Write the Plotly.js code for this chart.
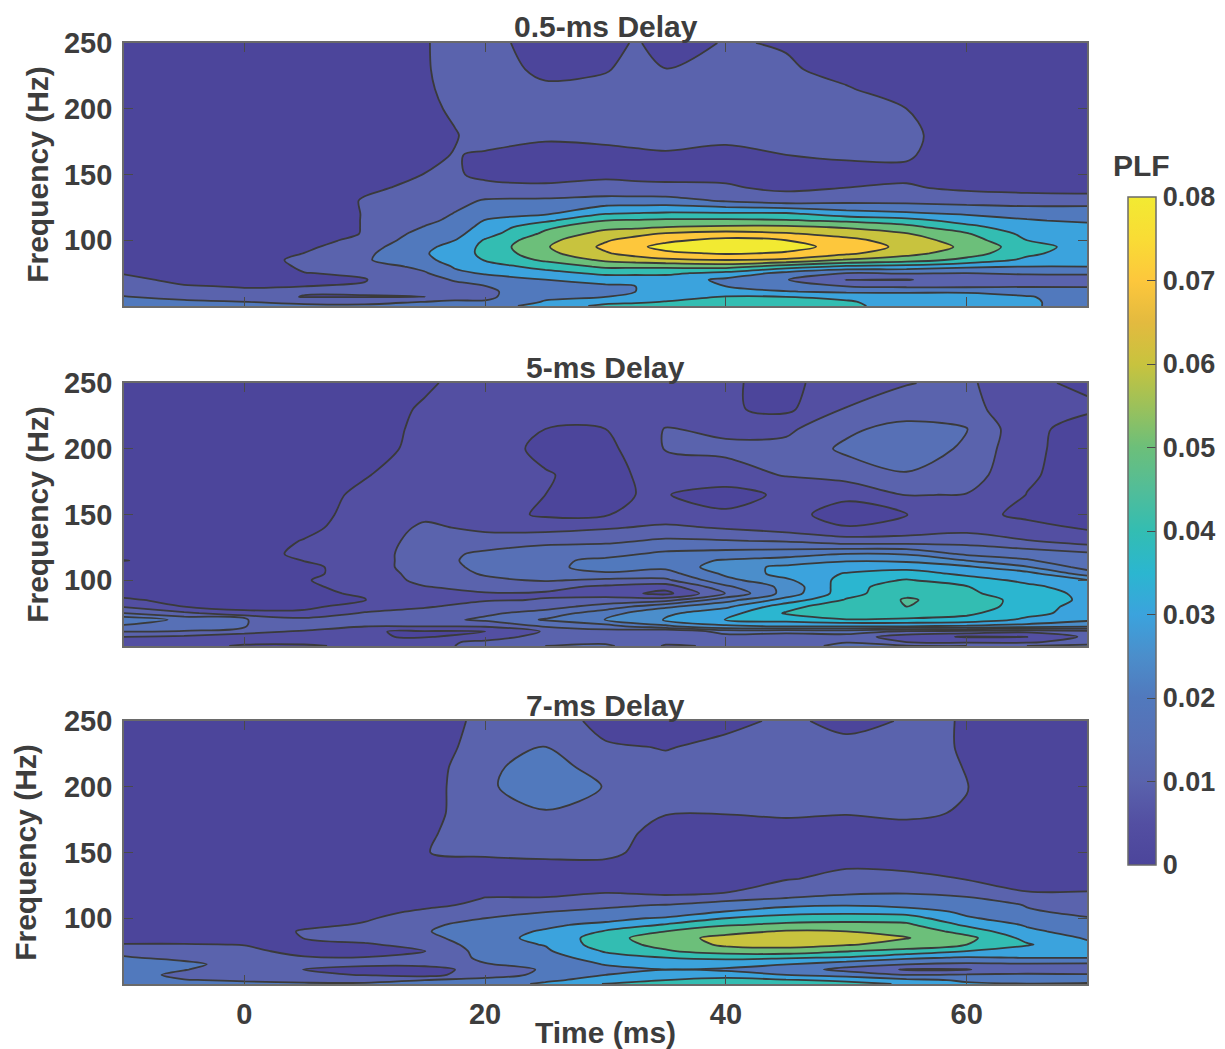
<!DOCTYPE html>
<html>
<head>
<meta charset="utf-8">
<script src="https://cdn.plot.ly/plotly-3.0.1.min.js"></script>
<style>html,body{margin:0;padding:0;background:#fff}#chart{width:1225px;height:1049px}</style>
</head>
<body>
<div id="chart"></div>
<script>
// Time axis (ms): one entry per column below
const timeMs = [-10,-5,0,5,10,15,20,25,30,35,40,45,50,55,60,65,70];
// The 0.5-ms panel has two extra readings, at saddles between contours
const timeMs05 = [-10,-5,0,5,10,15,17.5,20,25,30,32.5,35,40,45,50,55,60,65,70];
// Frequency axis (Hz): one entry per value in each column
const freqHz = [50,53,57,61,65,70,75,80,85,90,95,100,105,110,115,120,130,140,150,165,180,200,215,230,250];

// PLF x 1000, one list per time column
const plf05 = [
[26,23,20.5,17,14,12,9.5,7,5,4,4,3,3,3,3,3,3,3,3,3,3,3,3,3,3],
[24,22,17,13,10.5,8,6,5,4,4,3,3,3,3,3,3,3,3,3,3,3,3,3,3,3],
[22,20.3,15,11,9.6,7,5,4,4,4,3,3,3,3,3,3,3,3,3,3,3,3,3,3,3],
[22,18,9.5,11,10,9,9.8,11.5,13,10.2,8,6,5,4,4,3.5,3,3,3,3,3,3,3,3,3],
[22,17,9.5,11,10.5,9.7,11,14,19,18,16,13,10.5,10.5,10.5,10.5,10.8,8.5,7,5,4,3,3,3,3],
[24,20.5,9.9,12,14,16,19,23,27,29,28,26,24,20.5,18,16,14,12,10.1,9,9,8.8,9,9.5,9.7],
[23,21,18,15,17,21,28,31,35,36,33,30,27,25,22,20.5,17,14,11,10.2,9.7,10.8,12,12,11.5],
[24,21,18,18.5,19.8,26,31,36,40.5,42,43,41,36,33,30.5,27,21,12.5,8,9.5,12,14,15,14,13],
[35,31,28,25,27,30,37,43,52,57,59,57,52,48,38,29,22,11,8,8,11,14,11.5,8,6],
[42,38,30,26,28,35,42,52,62,69,72,69,64,57,50,40,24,12.5,8.5,8.5,11.5,14,12,9.5,7],
[43,39,34,30,30,35,42,52,65,74,78,74,67,58,51,41,24,12,8,9,12,14,13,12,10.8],
[44,40.5,37,33,32,35,42,52,68,78,83,78,71,60,52,42,24,11.5,8,9.5,12,14,12,10.1,7],
[46,45,40.5,34,30,28,37,54,70,81,85,83,74,62,52,42,19,11,8,9,11,13,12,11.5,10.5],
[45,44,40,30.5,24,20.5,27,45,68,79,83,80,71,62,51,42,15,8,7,10,12,13,12,10.8,9.5],
[42,41,38,28,20,9.5,20,38,59,72,77,73,66,59,48,35,17,10,7.5,11,13,12,10.5,8,6],
[36,36,33,29,18,9.5,21,36,55,63,67,65,60.5,53,44,32,17,11,8,11,12,10,7,5,4],
[33,33,33,29,18,14,20,32,47,55,58,55,51,43,36,29,16,8,6,5,5,4,4,3,3],
[31,31,30.5,27,19,16,21,30,38,42,44,40,37,34,30.5,28,14.5,7,5,4,4,3,3,3,3],
[27,27,27,25,19,15,21.5,30,33,35,36,35,33,32,29,26,16,5,4,3,3,3,3,3,3]
];
const plf5 = [
[7,8,10,15,19,24,15,9.5,5.5,4,3,3,3,3,5.1,3,3,3,3,3,3,3,3,3,3],
[6.5,7,9,14.5,18,18.5,11,5,4,3,3,3,3,3,4,3,3,3,3,3,3,3,3,3,3],
[4.5,6,8.5,11,15.2,15.5,7,2.5,3,3,3,3,3,3,3,3,3,3,3,3,3,3,3,3,3],
[4.7,5.5,7,9.5,12.5,11.5,6,4,3.5,4.5,4.5,4.8,4,4,5.1,6,5.2,4,3.5,3,3,3,3,3,3],
[5.5,6,5.5,5.3,10.2,12,10.5,7,4.9,5.3,6,6.5,7,7,7,7,7,7,6.5,6,4.7,3,3,3,3],
[8,8.5,4.5,4.5,10.2,13,12,9.5,7.5,8,9.8,11.5,12,13,13,13,12,10.8,9,8,7.5,6.5,6,5.5,4.4],
[12,11,7.5,5,10.5,16,14,12,9.6,9.7,11.5,14,15.5,16,16.5,16,12,9,7,6,6.5,7,7,7,7],
[15,14,12,10.5,15.5,20.5,17,13,10.2,9.5,11.5,15.5,17,18,19,17,14,8,4.3,5,5.3,4,5,6,6.5],
[16,14,10.5,13,18,25.3,23,17,12,7.5,9,14,19,23,21,18.5,14,9.5,4.7,4.8,3.5,3.5,5,6.5,6],
[9.5,11,11,10,24,30.5,29,24,13,3.5,7,14,18,21,23,21,15.8,11,7,5.2,7,10.3,10.3,7,6.5],
[10.5,12,13,17,29,35.1,33,29,23,15.2,19,23.5,26,28,25.5,22,15.3,9.5,5.8,3,8,11,9,5.5,5.5],
[10,12.5,12,16.5,30.5,37,40.5,38,32,27,26.5,29,32,31,27,23,14.5,7.5,6.5,6,10.3,11.5,9,4,3.8],
[18,14.5,13,17,30,39.8,43,44,40.5,38,38,37,35.3,33,29.5,25,12,5.3,3,6,12,16,14,10.3,7.5],
[15.5,10,7,14,30,39.5,42,45,45.5,44,43,40.5,37,33.5,29,24.5,12,7,4.9,10.2,14.5,18.5,17,12,9.8],
[15,9,4.5,13,29,38.5,41,43,43,41,40.3,37,34,31,25,19,13,8,6.5,9.8,12.5,14,15.2,12,11],
[15,9,4.8,11,28,34,36.5,37.5,38,37,36,34,32,25.5,20.5,18,10.3,6.5,4,4.9,5.6,6,6,6,5.5],
[16,13,11,13,26,31,33,33,34,34,33,30.5,22.5,18,17,16,7.5,4.5,3.5,4,3,3,3.5,5.5,4.5]
];
const plf7 = [
[25,25,25,24,23,21,17,10.5,6,4,3,3,3,3,3,3,3,3,3,3,3,3,3,3,3],
[24,20.5,17,20.5,23,17,14,10.5,6,4,3,3,3,3,3,3,3,3,3,3,3,3,3,3,3],
[22,19,15,14,15,14,11.5,9.8,6,4,3,3,3,3,3,3,3,3,3,3,3,3,3,3,3],
[21,18,12,9.9,12,10.5,8,7.5,10.2,11,8,6,5,4.5,3,3,3,3,3,3,3,3,3,3,3],
[21,17.5,9.5,8,11,10.2,8,9.3,12,13,10.8,9,7,5.5,4.5,4,3,3,3,3,3,3,3,3,3],
[22,20,6,5,13,13,9.9,12,16,19,17.5,14,11.5,8,6,5,4,5,9.9,8,6,5.5,5,4,3.5],
[24,22,17,15,19.5,22,24,26,28,28,25,20,15,12,10.3,8.5,6.5,8,11,17,17.5,18,17.5,15,13],
[32,28,21.5,21,23,25,28.5,30.5,31.5,30.5,29,23,19.8,14,10.5,8,6,8,12,15.5,19,27,25,20.5,15],
[40.5,34,30,27,30.5,36,41,45.5,46,41,31.5,28,21.7,18.5,12,9.7,6.5,8,12,13,15,19.5,15,11,7],
[43,40,33,30,35,40,49,53,56,50,41,31,24,20.5,10.8,9.3,6,5.5,6,7.5,10.3,12,11.5,9.7,6],
[48,44,34,28.5,34,42,55,62,63,56.5,49,40,30.3,24,17.5,9.5,5.5,4.5,5,7,10.2,12.5,13,11.5,8.5],
[47,41,30,25,30.3,41,56,63.5,66,61,52,45.5,35,28,20.5,14,9.6,5,4.5,7,11,12,13,12,11],
[43,38,26,17,24,39,50.5,61,64,60,53,46,37,29.5,21.5,19,11.5,9.5,6,7,10.3,12.5,13,11.5,8.5],
[39,32,20,9,20,32,47,56,60.5,57,52,45,35,27,21.5,19.5,12,8.5,6,8,11,13,13.5,12,10.4],
[31,29,21,9.5,18,29,40,50,53,46,38,31,28,26,21,17,9.7,6,5,5,9.5,10.2,9.7,9.5,9.9],
[30.5,26,21,16,19,30.3,35,41,37,32,29,26,21,19.5,17,10.2,6,4.5,4,3.5,3.5,3.5,3.5,3,3],
[31,27,20.5,16,18.5,30.3,31.5,32,29,26,23,20.5,18,15,12,10.2,5,4,3.5,3.5,3,3,3,3,3]
];

const panelTitles = ['0.5-ms Delay','5-ms Delay','7-ms Delay'];
const contourSteps = [10,5,10];            // level spacing of each panel, PLF x 1000
const contourEnds  = [80,45,80];
const xTicks = [0,20,40,60];
const yTicks = [100,150,200,250];
const cbTicks = [0,0.01,0.02,0.03,0.04,0.05,0.06,0.07,0.08];
const cbLabels = ['0','0.01','0.02','0.03','0.04','0.05','0.06','0.07','0.08'];

// Colour of each PLF value on the colour bar (value x 1000, colour)
const palette = [[0,[76,69,155]],[5,[83,79,162]],[10,[90,99,173]],[15,[87,112,182]],[20,[81,121,189]],
 [25,[75,142,203]],[30,[59,163,221]],[35,[43,182,208]],[40,[51,189,178]],[45,[82,189,152]],
 [50,[108,191,122]],[55,[156,193,90]],[60,[200,195,62]],[65,[227,186,63]],[70,[253,199,60]],
 [75,[249,220,53]],[80,[242,234,50]]];
const rgb = c => 'rgb(' + c.join(',') + ')';
const colorAt = v => rgb(palette.find(p => p[0] === v)[1]);

const W = 1225, H = 1049;
const plotLeft = 124, plotRight = 1088;
const panelPx = [[43,306],[383,646],[721,984]];
const ink = '#3d3d3d';
const fontFam = '"Liberation Sans", Arial, sans-serif';
const boldFont = (size) => ({family: fontFam, size: size, color: ink, weight: 700});

const transpose = cols => cols[0].map((_, r) => cols.map(c => c[r] / 1000));
const series = [plf05, plf5, plf7];
const seriesTime = [timeMs05, timeMs, timeMs];

const data = series.map((cols, i) => {
  const step = contourSteps[i], end = contourEnds[i];
  const nBands = Math.round((end - step) / step) + 1;
  const scale = [];
  for (let k = 0; k <= nBands; k++) scale.push([k / nBands, colorAt(k * step)]);
  return {
    type: 'contour',
    x: seriesTime[i], y: freqHz, z: transpose(cols),
    xaxis: i === 0 ? 'x' : 'x' + (i + 1),
    yaxis: i === 0 ? 'y' : 'y' + (i + 1),
    autocontour: false,
    contours: {coloring: 'fill', showlines: true, start: step / 1000, end: end / 1000, size: step / 1000},
    line: {color: '#3a3a3a', width: 1.8, smoothing: 0.9},
    colorscale: scale,
    showscale: false,
    hoverinfo: 'x+y+z'
  };
});

// Colour bar: continuous scale carried by an off-range heatmap
data.push({
  type: 'heatmap',
  x: [-1000, -999], y: [-1000, -999],
  z: [[cbTicks[0], cbTicks[cbTicks.length - 1]], [cbTicks[0], cbTicks[cbTicks.length - 1]]],
  zmin: 0, zmax: 0.08,
  colorscale: palette.map(p => [p[0] / 80, rgb(p[1])]),
  hoverinfo: 'skip',
  colorbar: {
    x: 1128 / W, xanchor: 'left', xpad: 0,
    y: 1 - 865 / H, yanchor: 'bottom', ypad: 0,
    lenmode: 'fraction', len: (865 - 197) / H,
    thickness: 28, thicknessmode: 'pixels',
    outlinecolor: '#6a6a6a', outlinewidth: 1.5,
    tickmode: 'array', tickvals: cbTicks, ticktext: cbLabels,
    ticks: 'inside', ticklen: 9, tickwidth: 1.3, tickcolor: '#4a4a4a',
    tickfont: boldFont(27),
    showticklabels: true
  }
});

const layout = {
  width: W, height: H,
  margin: {l: 0, r: 0, t: 0, b: 0, pad: 0},
  paper_bgcolor: '#fff', plot_bgcolor: '#fff',
  showlegend: false,
  annotations: panelTitles.map((t, i) => ({
    text: t, xref: 'paper', yref: 'paper', showarrow: false,
    x: 606 / W, y: 1 - (panelPx[i][0] - 16) / H, xanchor: 'center', yanchor: 'middle',
    font: boldFont(30)
  })).concat([{
    text: 'PLF', xref: 'paper', yref: 'paper', showarrow: false,
    x: 1142 / W, y: 1 - 165 / H, xanchor: 'center', yanchor: 'middle',
    font: boldFont(30)
  }])
};

const titleStandoff = [6, 6, 18];
panelPx.forEach((p, i) => {
  const sfx = i === 0 ? '' : String(i + 1);
  layout['xaxis' + sfx] = {
    domain: [plotLeft / W, plotRight / W], range: [-10, 70], anchor: i === 0 ? 'y' : 'y' + sfx,
    tickmode: 'array', tickvals: xTicks, ticks: 'inside', ticklen: 9, tickwidth: 1.3, tickcolor: '#4a4a4a',
    showticklabels: i === 2, tickfont: boldFont(29), ticklabelstandoff: 3,
    showline: true, mirror: 'ticks', linecolor: '#6a6a6a', linewidth: 1.5, showgrid: false, zeroline: false,
    title: i === 2 ? {text: 'Time (ms)', font: boldFont(30), standoff: 7} : {text: ''}
  };
  layout['yaxis' + sfx] = {
    domain: [1 - p[1] / H, 1 - p[0] / H], range: [50, 250], anchor: i === 0 ? 'x' : 'x' + sfx,
    tickmode: 'array', tickvals: yTicks, ticks: 'inside', ticklen: 9, tickwidth: 1.3, tickcolor: '#4a4a4a',
    tickfont: boldFont(29), ticklabelstandoff: 4,
    showline: true, mirror: 'ticks', linecolor: '#6a6a6a', linewidth: 1.5, showgrid: false, zeroline: false,
    title: {text: 'Frequency (Hz)', font: boldFont(30), standoff: titleStandoff[i]}
  };
});

Plotly.newPlot('chart', data, layout, {displayModeBar: false, responsive: false, staticPlot: false});
</script>
</body>
</html>
